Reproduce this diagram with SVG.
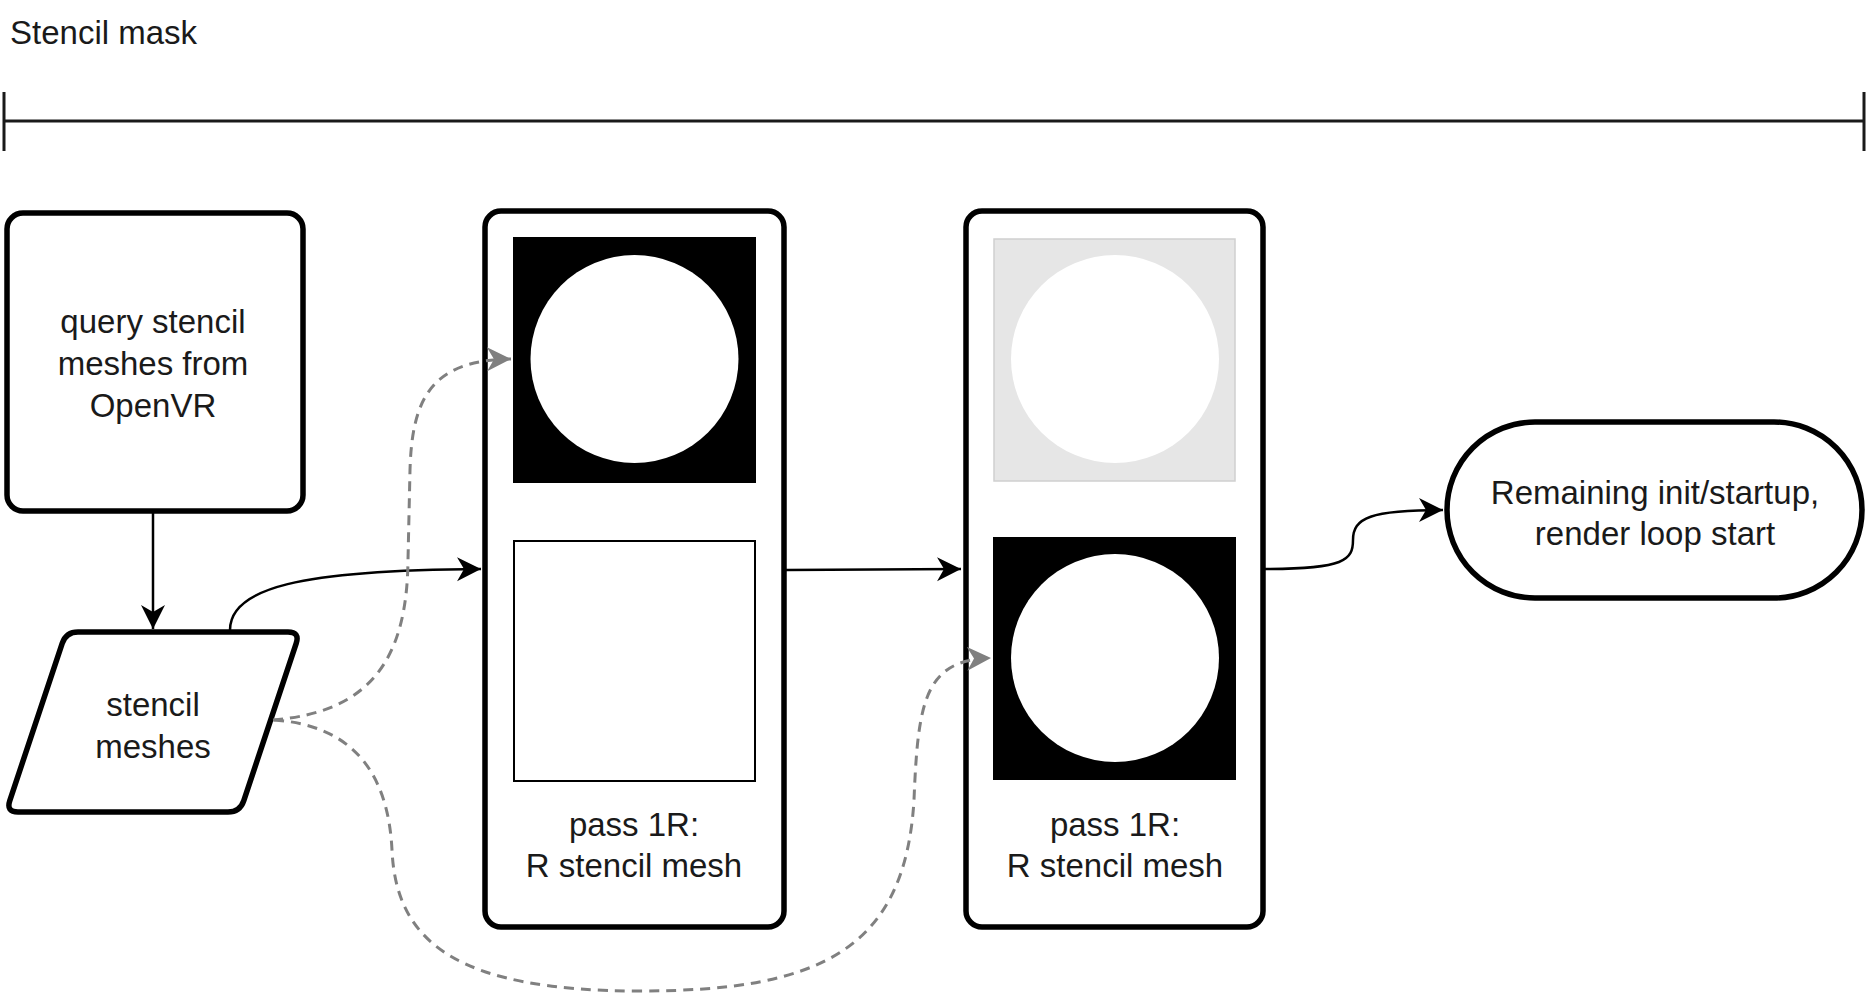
<svg xmlns="http://www.w3.org/2000/svg" width="1869" height="993" viewBox="0 0 1869 993">
<style>
text{font-family:"Liberation Sans",Arial,sans-serif;font-size:33px;fill:#1a1a1a;text-anchor:middle}
.node{fill:#fff;stroke:#000;stroke-width:5.5}
.edge{fill:none;stroke:#000;stroke-width:2.5}
.dash{fill:none;stroke:#808080;stroke-width:3;stroke-dasharray:10 7}
</style>
<defs>
<marker id="ab" markerUnits="userSpaceOnUse" markerWidth="26" markerHeight="26" refX="24" refY="13" orient="auto"><path d="M0 1 L24 13 L0 25 L7 13 Z" fill="#000"/></marker>
<marker id="ag" markerUnits="userSpaceOnUse" markerWidth="26" markerHeight="26" refX="24" refY="13" orient="auto"><path d="M0 1 L24 13 L0 25 L7 13 Z" fill="#808080"/></marker>
</defs>
<g id="timeline">
<text x="10" y="44" style="text-anchor:start">Stencil mask</text>
<path d="M4 121 L1864 121 M4 92 L4 151 M1864 92 L1864 151" fill="none" stroke="#1a1a1a" stroke-width="3"/>
</g>
<g id="query">
<rect class="node" x="7" y="213" width="296" height="298" rx="16"/>
<text x="153" y="333">query stencil</text>
<text x="153" y="375">meshes from</text>
<text x="153" y="417">OpenVR</text>
</g>
<g id="meshes">
<path class="node" d="M78 632 L288 632 Q300 632 296.2 643.4 L243.8 800.6 Q240 812 228 812 L18 812 Q6 812 9.8 800.6 L62.2 643.4 Q66 632 78 632 Z"/>
<text x="153" y="716">stencil</text>
<text x="153" y="758">meshes</text>
</g>
<g id="pass1">
<rect class="node" x="485" y="211" width="299" height="716" rx="16"/>
<rect x="513" y="237" width="243" height="246" fill="#000"/>
<circle cx="634.5" cy="359" r="104" fill="#fff"/>
<rect x="514" y="541" width="241" height="240" fill="#fff" stroke="#000" stroke-width="2"/>
<text x="634" y="836">pass 1R:</text>
<text x="634" y="877">R stencil mesh</text>
</g>
<g id="pass2">
<rect class="node" x="966" y="211" width="297" height="716" rx="16"/>
<rect x="994" y="239" width="241" height="242" fill="#e6e6e6" stroke="#cfcfcf" stroke-width="1.5"/>
<circle cx="1115" cy="359" r="104" fill="#fff"/>
<rect x="993" y="537" width="243" height="243" fill="#000"/>
<circle cx="1115" cy="658" r="104" fill="#fff"/>
<text x="1115" y="836">pass 1R:</text>
<text x="1115" y="877">R stencil mesh</text>
</g>
<g id="render">
<rect class="node" x="1447" y="422" width="415" height="176" rx="88"/>
<text x="1655" y="504">Remaining init/startup,</text>
<text x="1655" y="545">render loop start</text>
</g>
<g id="connectors">
<path class="edge" d="M153 513 L153 629" marker-end="url(#ab)"/>
<path class="edge" d="M230 630 C230 588 300 570 481 569" marker-end="url(#ab)"/>
<path class="edge" d="M786 570 L961 569" marker-end="url(#ab)"/>
<path class="edge" d="M1265 569 C1345 569 1353 560 1353 540 C1353 518 1370 510 1443 510" marker-end="url(#ab)"/>
<path class="dash" d="M273 720 C370 712 407 660 408 560 L410 470 C412 400 430 360 511 359" marker-end="url(#ag)"/>
<path class="dash" d="M274 720 C350 725 388 770 392 850 C396 944 460 991 640 991 C820 991 905 950 914 800 C918 700 925 660 991 658" marker-end="url(#ag)"/>
</g>
</svg>
